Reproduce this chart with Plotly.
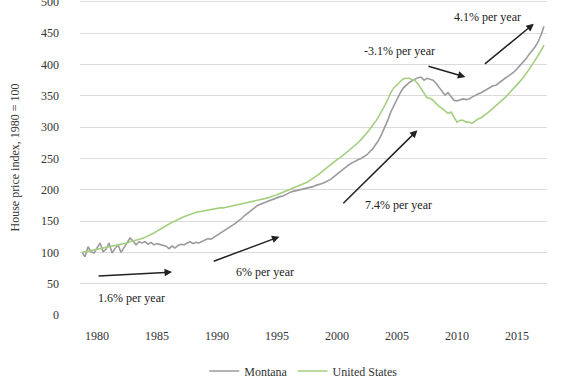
import plotly.graph_objects as go

start_year = 1978.75
step = 0.25

montana = [
    100,
    93, 109, 101, 99,
    106, 115, 101, 105,
    115, 99, 106, 112,
    100, 108, 115, 123,
    118, 112, 117, 115,
    117, 113, 116, 112,
    114, 113, 112, 110,
    106, 110, 107, 111,
    113, 112, 115, 117,
    114, 116, 115, 117,
    120, 122, 121, 124,
    128, 131, 134, 137,
    140, 143, 146, 150,
    153, 158, 162, 166,
    170, 173, 176, 178,
    180, 182, 184, 186,
    187, 189, 190, 193,
    195, 197, 198, 199,
    200, 201, 202, 204,
    205, 207, 208, 210,
    212, 214, 217, 221,
    225, 229, 233, 237,
    240, 243, 246, 248,
    250, 253, 256, 261,
    266, 273, 280, 290,
    300, 312, 325, 335,
    345, 354, 362, 367,
    371, 374, 377, 379,
    380, 375, 378, 376,
    375, 370, 363, 357,
    351, 355, 349, 343,
    342, 344, 345, 344,
    345, 348, 351, 353,
    355, 358, 361, 364,
    366, 367, 371, 375,
    378, 381, 384, 388,
    393, 398, 403, 409,
    416, 422, 428, 436,
    447, 461,
]

united_states = [
    100,
    101, 102, 103, 104,
    105, 106, 107, 108,
    109, 110, 110, 111,
    112, 113, 115, 117,
    118, 119, 120, 122,
    124, 126, 128, 131,
    134, 137, 140, 143,
    146, 148, 150, 153,
    155, 157, 159, 161,
    163, 164, 165, 166,
    166, 167, 168, 169,
    170, 171, 171, 172,
    173, 174, 175, 176,
    177, 178, 179, 180,
    181, 182, 183, 185,
    186, 187, 189, 190,
    192, 194, 196, 197,
    199, 201, 203, 205,
    207, 209, 212, 215,
    218, 221, 225, 229,
    233, 236, 240, 244,
    248, 251, 255, 258,
    262, 266, 270, 275,
    280, 285, 291, 297,
    303, 310, 318, 326,
    335, 345, 356, 363,
    368, 373, 377, 378,
    378, 376, 374, 369,
    362, 356, 347, 346,
    343, 338, 333, 330,
    326, 322, 324, 316,
    308, 311, 311, 308,
    308, 306, 310, 313,
    315, 318, 322, 326,
    330, 334, 338, 343,
    347, 352, 357, 362,
    368, 373, 379, 385,
    392, 399, 406, 414,
    422, 431,
]

x_ticks = [1980, 1985, 1990, 1995, 2000, 2005, 2010, 2015]
y_ticks = [0, 50, 100, 150, 200, 250, 300, 350, 400, 450, 500]

# Growth-rate arrows: (tail_x, tail_y, head_x, head_y)
arrows = [
    (1980.0, 62, 1986.25, 68.5),
    (1989.6, 85, 1995.2, 125),
    (2000.4, 176, 2006.7, 295),
    (2007.5, 398, 2010.7, 380),
    (2012.2, 399, 2016.4, 465),
]
labels = [
    ("1.6% per year", 1982.9, 27),
    ("6% per year", 1994.0, 69),
    ("7.4% per year", 2005.1, 176),
    ("-3.1% per year", 2005.2, 422),
    ("4.1% per year", 2012.5, 476),
]

years = [start_year + step * i for i in range(len(montana))]

font_family = "Liberation Serif"
serif_font = dict(family=font_family, size=12, color="#333333")

fig = go.Figure()
fig.add_trace(go.Scatter(x=years, y=montana, mode="lines", name="Montana",
                         line=dict(color="#9b9b9b", width=1.6)))
fig.add_trace(go.Scatter(x=years, y=united_states, mode="lines", name="United States",
                         line=dict(color="#a3cf7f", width=1.6)))

for tx, ty, hx, hy in arrows:
    fig.add_annotation(x=hx, y=hy, ax=tx, ay=ty, xref="x", yref="y",
                       axref="x", ayref="y", text="", showarrow=True,
                       arrowhead=2, arrowsize=1, arrowwidth=1.5,
                       arrowcolor="#222222")
for text, lx, ly in labels:
    fig.add_annotation(x=lx, y=ly, xref="x", yref="y", text=text,
                       showarrow=False, font=dict(size=12, color="#222222",
                                                  family=font_family))

fig.update_layout(
    width=570, height=381,
    margin=dict(l=80, r=23, t=0, b=66, autoexpand=False),
    paper_bgcolor="white", plot_bgcolor="white",
    font=serif_font,
    showlegend=True,
    legend=dict(orientation="h", x=0.478, xanchor="center", y=-0.178,
                yanchor="middle", itemwidth=30, font=serif_font),
    xaxis=dict(range=[1978.58, 2017.5], tickvals=x_ticks,
               ticktext=[str(v) for v in x_ticks], showgrid=False,
               zeroline=False, showline=False, ticks="", automargin=False,
               ticklabelstandoff=12, tickfont=serif_font),
    yaxis=dict(range=[0, 503], tickvals=y_ticks, showgrid=True,
               gridcolor="#dadada", gridwidth=1, zeroline=False,
               showline=False, ticks="", ticklabelstandoff=20,
               ticklabeloverflow="allow", automargin=False,
               tickfont=serif_font,
               title=dict(text="House price index, 1980 = 100",
                          font=serif_font, standoff=18)),
)

fig.write_html("out.html",
               config={"displayModeBar": False},
               post_script="document.body.style.margin='0';")
